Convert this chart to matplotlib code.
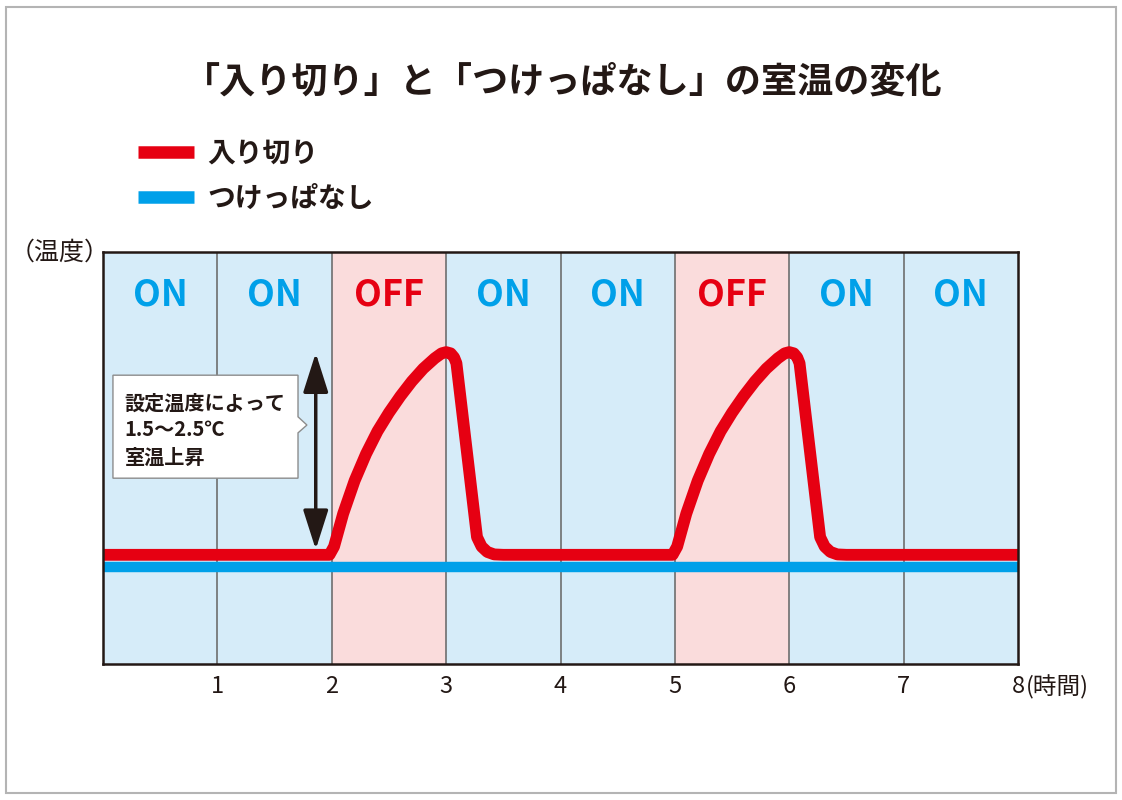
import matplotlib.pyplot as plt
from matplotlib.patches import Rectangle, Polygon
import numpy as np

plt.rcParams['font.family'] = ['Noto Sans CJK JP', 'DejaVu Sans']

# data
hours = [1, 2, 3, 4, 5, 6, 7, 8]
states = ['ON', 'ON', 'OFF', 'ON', 'ON', 'OFF', 'ON', 'ON']

# room temp, "入り切り" (arbitrary units)
red_x = [0, 1.98, 2.02, 2.06, 2.1, 2.2, 2.3, 2.4, 2.5, 2.6, 2.7, 2.8, 2.9, 2.96, 3.0, 3.04, 3.07, 3.09,
         3.27, 3.31, 3.36, 3.42, 3.50,
         4.98, 5.02, 5.06, 5.1, 5.2, 5.3, 5.4, 5.5, 5.6, 5.7, 5.8, 5.9, 5.96, 6.0, 6.04, 6.07, 6.09,
         6.27, 6.31, 6.36, 6.42, 6.50, 8.0]
red_y = [2.65, 2.65, 2.85, 3.25, 3.65, 4.45, 5.1, 5.65, 6.1, 6.5, 6.86, 7.17, 7.42, 7.54, 7.57, 7.54, 7.44, 7.3,
         3.08, 2.85, 2.72, 2.66, 2.65,
         2.65, 2.85, 3.25, 3.65, 4.45, 5.1, 5.65, 6.1, 6.5, 6.86, 7.17, 7.42, 7.54, 7.57, 7.54, 7.44, 7.3,
         3.08, 2.85, 2.72, 2.66, 2.65, 2.65]
# room temp, "つけっぱなし"
blue_x = [0, 8]
blue_y = [2.35, 2.35]

RED = '#e60012'
BLUE = '#00a0e9'
INK = '#231815'

fig = plt.figure(figsize=(11.22, 8.0), dpi=100)
fig.patches.append(Rectangle((6/1122, 7/800), 1110/1122, 786/800, transform=fig.transFigure,
                             fill=False, edgecolor='#b4b4b4', lw=1.5))

ax = fig.add_axes([103/1122, 136/800, 915/1122, 412/800])
ax.set_xlim(0, 8)
ax.set_ylim(0, 10)

# ON / OFF bands
for i, s in enumerate(states):
    col = '#fadcdc' if s == 'OFF' else '#d6ecf9'
    ax.axvspan(i, i + 1, color=col, lw=0, zorder=0)
    ax.text(i + 0.5, 8.95, s, ha='center', va='center', fontsize=26, fontweight='bold',
            color=RED if s == 'OFF' else BLUE)
for h in hours[:-1]:
    ax.axvline(h, color='#6e6e6e', lw=1.2, zorder=1)

blue_line, = ax.plot(blue_x, blue_y, color=BLUE, lw=7.5, solid_capstyle='butt', zorder=3, label='つけっぱなし')
red_line, = ax.plot(red_x, red_y, color=RED, lw=8.5, solid_joinstyle='round', solid_capstyle='butt',
                    zorder=4, label='入り切り')

# double arrow
ax.annotate('', xy=(1.86, 7.55), xytext=(1.86, 2.78),
            arrowprops=dict(arrowstyle='<|-|>,head_length=1.1,head_width=0.35', color=INK,
                            lw=2.5, mutation_scale=22, shrinkA=0, shrinkB=0), zorder=5)

# callout box
box = Polygon([(0.087, 7.01), (1.705, 7.01), (1.705, 6.0), (1.783, 5.80), (1.705, 5.61),
               (1.705, 4.51), (0.087, 4.51)], closed=True, facecolor='white', edgecolor='#8c8c8c',
              lw=1, zorder=5)
ax.add_patch(box)
ax.text(0.19, 5.68, '設定温度によって\n1.5～2.5℃\n室温上昇', ha='left', va='center', fontsize=14.5,
        fontweight='bold', color=INK, linespacing=1.35, zorder=6)

for sp in ax.spines.values():
    sp.set_linewidth(1.8)
    sp.set_color(INK)
    sp.set_zorder(7)

ax.set_yticks([])
ax.set_xticks(hours)
ax.set_xticklabels([str(h) for h in hours], fontsize=17, color=INK)
ax.tick_params(axis='x', length=0, pad=8)
ax.annotate('(時間)', xy=(8, 0), xytext=(6, -17), textcoords='offset points', ha='left', va='center',
            fontsize=17, color=INK, annotation_clip=False)

fig.text(10/1122, 1 - 253/800, '（温度）', ha='left', va='center', fontsize=18, color=INK)

fig.text(563/1122, 1 - 82/800, '「入り切り」と「つけっぱなし」の室温の変化', ha='center', va='center',
         fontsize=26, fontweight='bold', color=INK)

leg = ax.legend(handles=[red_line, blue_line], loc='upper left', bbox_to_anchor=(113/1122, 1 - 115/800),
                bbox_transform=fig.transFigure, frameon=False, fontsize=20, handlelength=2.0,
                handletextpad=0.5, labelspacing=0.6)
for t in leg.get_texts():
    t.set_fontweight('bold')
    t.set_color(INK)
for l in leg.get_lines():
    l.set_linewidth(9)

fig.savefig('out.png', dpi=100)
